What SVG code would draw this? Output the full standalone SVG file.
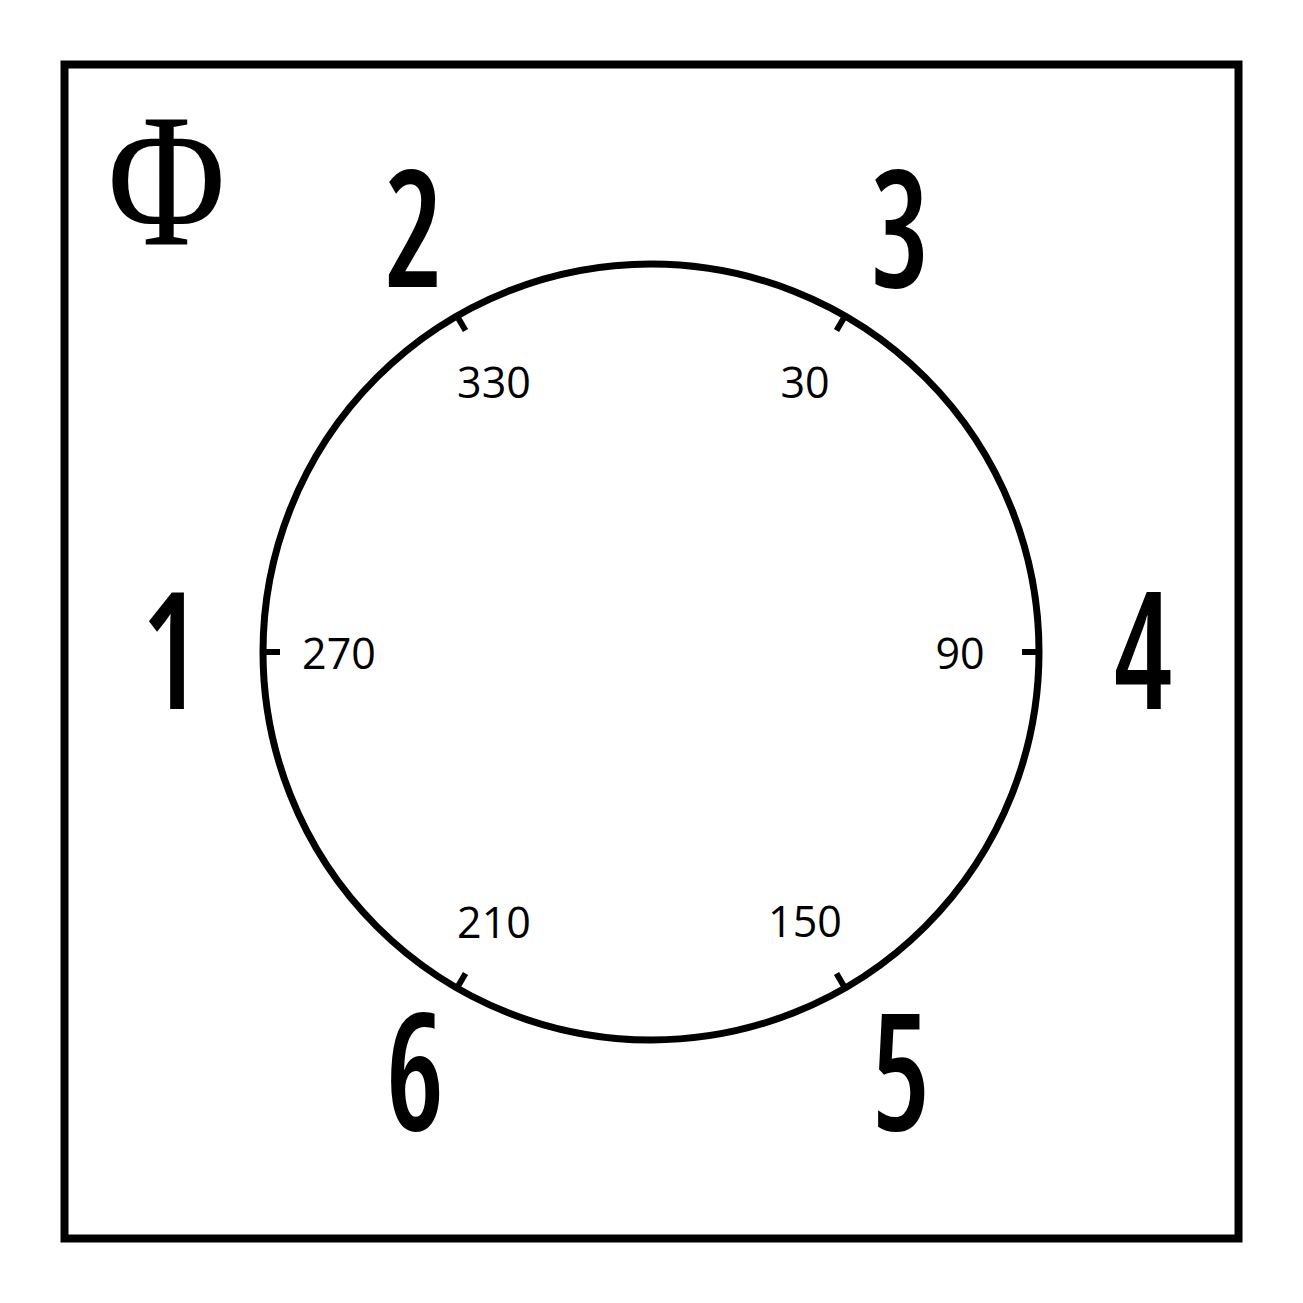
<svg xmlns="http://www.w3.org/2000/svg" width="1303" height="1303" viewBox="0 0 1303 1303">
<style>
.frame{fill:none;stroke:#000;stroke-width:8}
.dial{fill:none;stroke:#000;stroke-width:7}
.tick{stroke:#000;stroke-width:6;fill:none}
.big{font-family:"Open Sans","Liberation Sans",sans-serif;font-weight:550;font-stretch:75%;font-size:163px;text-anchor:middle;fill:#000}
.deg{font-family:"Open Sans","Liberation Sans",sans-serif;font-size:43px;text-anchor:middle;fill:#000}
.phi{font-family:"Liberation Serif","Times New Roman",serif;font-size:190px;text-anchor:middle;fill:#000}
</style>
<rect id="frame" class="frame" x="64.5" y="64.5" width="1174" height="1174"/>
<g id="symbol"><text class="phi" transform="translate(166.5,245) scale(0.85,1)">Φ</text></g>
<g id="dial">
<circle class="dial" cx="651" cy="652" r="388"/>
</g>
<g id="ticks">
<line class="tick" x1="457" y1="316" x2="465.5" y2="330.5"/>
<line class="tick" x1="845" y1="316" x2="836.5" y2="330.5"/>
<line class="tick" x1="1039" y1="652" x2="1022" y2="652"/>
<line class="tick" x1="845" y1="988" x2="836.5" y2="973.5"/>
<line class="tick" x1="457" y1="988" x2="465.5" y2="973.5"/>
<line class="tick" x1="263" y1="652" x2="280" y2="652"/>
</g>
<g id="positions">
<text class="big" transform="translate(171,709) scale(0.8,1)">1</text>
<text class="big" transform="translate(414,287) scale(0.8,1)">2</text>
<text class="big" transform="translate(900,287) scale(0.8,1)">3</text>
<text class="big" transform="translate(1143,709) scale(0.8,1)">4</text>
<text class="big" transform="translate(901,1130) scale(0.8,1)">5</text>
<text class="big" transform="translate(415,1130) scale(0.8,1)">6</text>
</g>
<g id="angles">
<text class="deg" x="494" y="398">330</text>
<text class="deg" x="805" y="398">30</text>
<text class="deg" x="960" y="669">90</text>
<text class="deg" x="805" y="937">150</text>
<text class="deg" x="494" y="938">210</text>
<text class="deg" x="339" y="669">270</text>
</g>
</svg>
